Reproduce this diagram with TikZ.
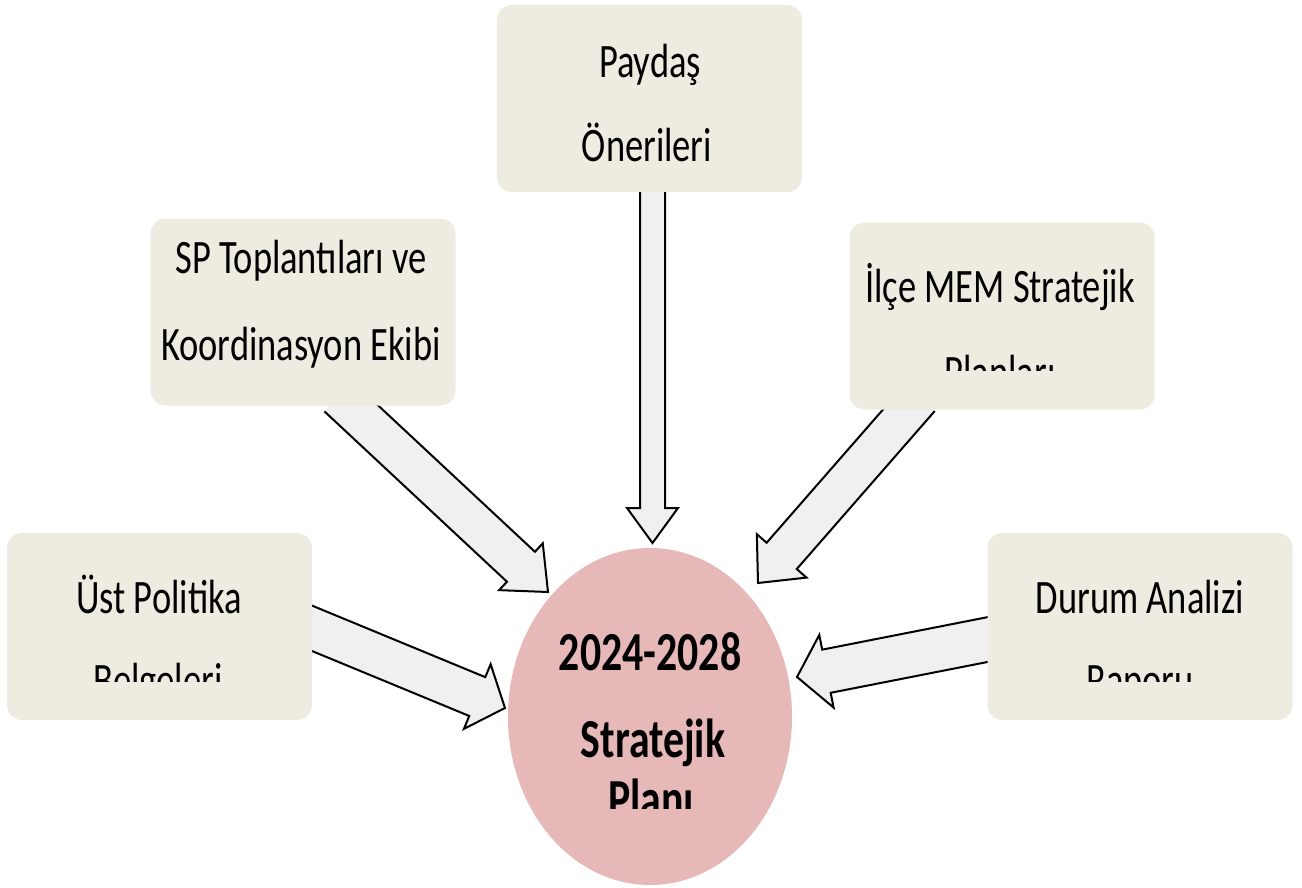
\documentclass[tikz,border=0pt]{standalone}
\usepackage{fontspec}
\newfontfamily\boxfont{Carlito}[FakeStretch=0.76]
\usetikzlibrary{calc,shapes.geometric}
\definecolor{boxbg}{HTML}{EEECE1}
\definecolor{planbg}{HTML}{E6B8B7}
\definecolor{arrowbg}{HTML}{F0F0F0}
\tikzset{
  box/.style={draw=none, fill=boxbg, rounded corners=15pt, minimum width=305pt, minimum height=187pt, inner sep=0pt},
  boxtext/.style={anchor=base, inner sep=0pt, font=\boxfont\fontsize{48}{58}\selectfont},
  plantext/.style={anchor=base, inner sep=0pt, font=\boxfont\bfseries\fontsize{55}{66}\selectfont},
  arrowfill/.style={fill=arrowbg},
  arrowline/.style={draw=black, line width=2pt, line join=miter}
}
\newcommand\blockarrow[5]{%
  \coordinate (ba-h) at ($(#2)!#5pt!(#1)$);
  \coordinate (ba-1) at ($(#1)!#3pt!90:(#2)$);
  \coordinate (ba-2) at ($(ba-h)!#3pt!90:(#2)$);
  \coordinate (ba-3) at ($(ba-h)!#4pt!90:(#2)$);
  \coordinate (ba-4) at ($(ba-h)!#4pt!-90:(#2)$);
  \coordinate (ba-5) at ($(ba-h)!#3pt!-90:(#2)$);
  \coordinate (ba-6) at ($(#1)!#3pt!-90:(#2)$);
  \fill[arrowfill] (ba-1)--(ba-2)--(ba-3)--(#2)--(ba-4)--(ba-5)--(ba-6)--cycle;
  \draw[arrowline] (ba-1)--(ba-2)--(ba-3)--(#2)--(ba-4)--(ba-5)--(ba-6);
}
\begin{document}
\begin{tikzpicture}[x=1pt,y=-1pt]
\useasboundingbox[fill=white] (0,0) rectangle (1302,888);

% central ellipse
\node[ellipse, fill=planbg, minimum width=284pt, minimum height=337pt, inner sep=0pt] (plan) at (650,716.5) {};

% arrow end points
\coordinate (tPaydas) at (652.5,170);
\coordinate (hPaydas) at (652.5,543);
\coordinate (tSP) at (338.4,396.4);
\coordinate (hSP) at (548,592);
\coordinate (tIlce) at (919.7,397.9);
\coordinate (hIlce) at (758,583);
\coordinate (tUst) at (296.5,621.9);
\coordinate (hUst) at (505,708);
\coordinate (tDurum) at (1002.6,636.6);
\coordinate (hDurum) at (797,677);

\blockarrow{tPaydas}{hPaydas}{12.5}{25.5}{35}
\blockarrow{tSP}{hSP}{20.5}{32}{37}
\blockarrow{tIlce}{hIlce}{20}{33}{36}
\blockarrow{tUst}{hUst}{21}{35}{30}
\blockarrow{tDurum}{hDurum}{22}{37}{30}

% boxes
\node[box] (paydas) at (649.5,98.5) {};
\node[box] (sp) at (303,312) {};
\node[box] (ilce) at (1002,316) {};
\node[box] (ust) at (159.5,626.5) {};
\node[box] (durum) at (1140,626.5) {};

% box texts
\node[boxtext] (paydas1) at (650,78) {Paydaş};
\node[boxtext] (paydas2) at (647,162) {Önerileri};
\node[boxtext] (sp1) at (301,273) {SP Toplantıları ve};
\node[boxtext] (sp2) at (301,360) {Koordinasyon Ekibi};
\node[boxtext] (ilce1) at (1000,302) {İlçe MEM Stratejik};
\begin{scope}
  \clip (849,300) rectangle (1155,370);
  \node[boxtext] (ilce2) at (1000,388) {Planları};
\end{scope}
\node[boxtext] (ust1) at (159,613) {Üst Politika};
\begin{scope}
  \clip (7,620) rectangle (312,681);
  \node[boxtext] (ust2) at (158,696) {Belgeleri};
\end{scope}
\node[boxtext] (durum1) at (1140,613) {Durum Analizi};
\begin{scope}
  \clip (987,620) rectangle (1293,681);
  \node[boxtext] (durum2) at (1140,696) {Raporu};
\end{scope}

% plan texts
\node[plantext] (plan1) at (650,670) {2024-2028};
\node[plantext] (plan2) at (653,757) {Stratejik};
\begin{scope}
  \clip (510,760) rectangle (792,808);
  \node[plantext] (plan3) at (651,817) {Planı};
\end{scope}
\end{tikzpicture}
\end{document}
